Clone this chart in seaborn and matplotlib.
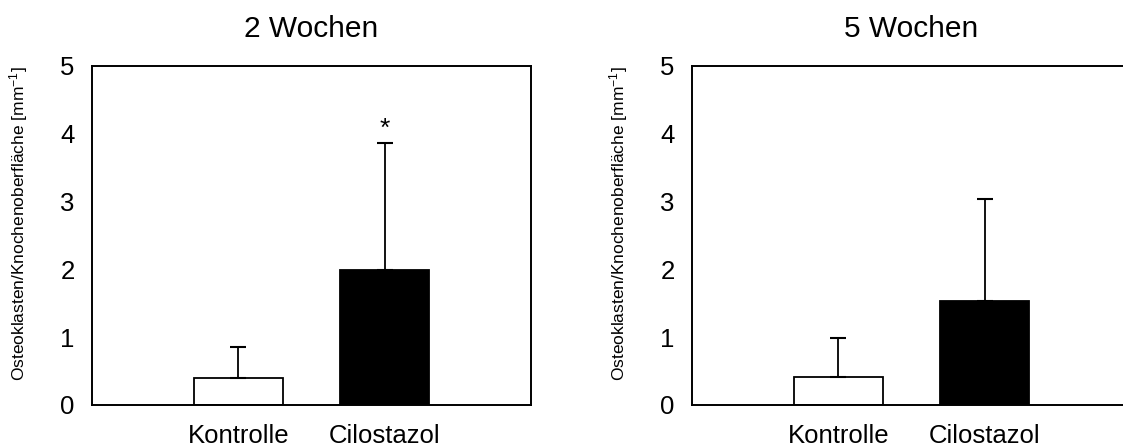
import matplotlib

matplotlib.use("Agg")

import matplotlib.pyplot as plt
import numpy as np
import pandas as pd
import seaborn as sns


GROUPS = ["Kontrolle", "Cilostazol"]
PANEL_TITLES = ["2 Wochen", "5 Wochen"]
MEANS_2W = [0.40, 1.99]
ERRORS_2W = [0.46, 1.87]
MEANS_5W = [0.41, 1.53]
ERRORS_5W = [0.58, 1.51]
SIGNIFICANT_2W = [False, True]
SIGNIFICANT_5W = [False, False]
Y_TICKS = [0, 1, 2, 3, 4, 5]
Y_LABEL = "Osteoklasten/Knochenoberfläche [mm$^{-1}$]"

BAR_COLORS = {"Kontrolle": "white", "Cilostazol": "black"}


def draw_panel(ax, title, means, errors, significant):
    df = pd.DataFrame({"group": GROUPS, "value": means})
    sns.barplot(
        data=df,
        x="group",
        y="value",
        hue="group",
        palette=BAR_COLORS,
        edgecolor="black",
        linewidth=1.3,
        width=0.61,
        legend=False,
        errorbar=None,
        ax=ax,
    )
    positions = np.arange(len(GROUPS))
    ax.errorbar(
        positions,
        means,
        yerr=[np.zeros(len(errors)), errors],
        fmt="none",
        ecolor="black",
        elinewidth=1.3,
        capsize=5.5,
        capthick=1.5,
        zorder=1,
    )
    for pos, mean, err, sig in zip(positions, means, errors, significant):
        if sig:
            ax.text(pos, mean + err + 0.03, "*", ha="center", va="bottom",
                    fontsize=19, color="black")

    ax.set_xlim(-1, 2)
    ax.set_ylim(0, 5)
    ax.set_yticks(Y_TICKS)
    ax.set_title(title, fontsize=21.5, pad=21, color="black")
    ax.set_xlabel("")
    ax.set_ylabel(Y_LABEL, fontsize=12.5, color="black")
    ax.yaxis.set_label_coords(-0.142, 0.535)
    ax.tick_params(axis="y", direction="out", length=4.5, width=1.3,
                   labelsize=18.5, pad=8, colors="black")
    ax.tick_params(axis="x", length=0, labelsize=18.5, pad=14, colors="black")
    for spine in ax.spines.values():
        spine.set_visible(True)
        spine.set_linewidth(1.4)
        spine.set_color("black")


def main():
    sns.set_theme(style="white")
    plt.rcParams["font.family"] = ["Liberation Sans", "DejaVu Sans"]
    plt.rcParams["mathtext.fontset"] = "custom"
    plt.rcParams["mathtext.rm"] = "Liberation Sans"
    plt.rcParams["mathtext.it"] = "Liberation Sans:italic"

    fig = plt.figure(figsize=(11.23, 4.48), dpi=100)
    ax_left = fig.add_axes([0.0819, 0.096, 0.3909, 0.7567])
    ax_right = fig.add_axes([0.6162, 0.096, 0.3909, 0.7567])

    draw_panel(ax_left, PANEL_TITLES[0], MEANS_2W, ERRORS_2W, SIGNIFICANT_2W)
    draw_panel(ax_right, PANEL_TITLES[1], MEANS_5W, ERRORS_5W, SIGNIFICANT_5W)

    fig.savefig("out.png", dpi=100, facecolor="white")
    plt.close(fig)


if __name__ == "__main__":
    main()
